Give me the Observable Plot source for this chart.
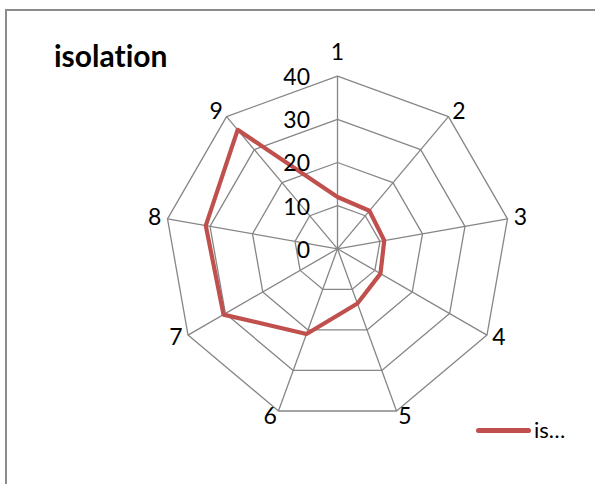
<!DOCTYPE html>
<html>
<head>
<meta charset="utf-8">
<script src="https://cdn.jsdelivr.net/npm/d3@7"></script>
<script src="https://cdn.jsdelivr.net/npm/@observablehq/plot@0.6"></script>
<style>
  html, body { margin: 0; padding: 0; background: #fff; }
  #wrap { position: relative; width: 595px; height: 484px; overflow: hidden; font-family: Lato, "Open Sans", sans-serif; font-variant-ligatures: none; font-feature-settings: "liga" 0, "dlig" 0; }
  #frame { position: absolute; left: 5px; top: 9px; width: 620px; height: 500px; border: 2px solid #8c8c8c; box-sizing: border-box; }
  #chart { position: absolute; left: 0; top: 0; }
  #title { position: absolute; left: 54px; top: 40px; font-size: 30px; line-height: 30px; font-weight: bold; color: #000; white-space: nowrap; font-variant-ligatures: none; font-feature-settings: "liga" 0, "dlig" 0; }
  #legend { position: absolute; left: 476px; top: 418px; height: 24px; display: flex; align-items: center; }
  #legend .sw { width: 55px; height: 5px; border-radius: 3px; margin-right: 3px; }
  #legend .lb { font-size: 22px; line-height: 22px; color: #000; }
</style>
</head>
<body>
<div id="wrap">
  <div id="frame"></div>
  <div id="chart"></div>
  <div id="title"></div>
  <div id="legend"><span class="sw"></span><span class="lb"></span></div>
</div>
<script>
// ---- data ----
const categories = ["1", "2", "3", "4", "5", "6", "7", "8", "9"];
const values = [12, 11.5, 11, 11.5, 13.5, 21, 30.5, 31, 36];
const tickValues = [0, 10, 20, 30, 40];
const seriesName = "isolation";
const legendLabel = "is…";
const seriesColor = "#C0504D";

// ---- geometry helpers (derived from data) ----
const maxV = 40;
const cx = 337, cy = 248.3, R = 172.6;       // pixel layout of the plot area
const pxPerUnit = R / maxV;
const angle = i => (i * 2 * Math.PI) / categories.length;

const pt = (v, i) => ({ x: v * Math.sin(angle(i)), y: v * Math.cos(angle(i)) });

const gridData = tickValues.filter(t => t > 0).flatMap(t =>
  categories.map((c, i) => ({ level: t, ...pt(t, i) })));
const spokes = categories.map((c, i) => ({ cat: c, ...pt(maxV, i) }));
const series = values.map((v, i) => ({ cat: categories[i], value: v, ...pt(v, i) }));

function labelPos(i) {
  const a = angle(i), s = Math.sin(a), c = Math.cos(a);
  const sgn = Math.abs(s) < 1e-6 ? 0 : Math.sign(s);
  const dxPx = sgn * (6 + 7 * Math.abs(s));
  let dyPx = -c * 6;
  if (Math.abs(s) < 1e-6 && c > 0) dyPx = -24;
  const p = pt(maxV, i);
  return { x: p.x + dxPx / pxPerUnit, y: p.y - dyPx / pxPerUnit };
}
const catLabels = categories.map((c, i) => ({ cat: c, ...labelPos(i) }));
const tickLabels = tickValues.map(t => ({ t, x: 0, y: t }));

const chart = Plot.plot({
  width: 595,
  height: 484,
  margin: 0,
  x: { domain: [-maxV, maxV], range: [cx - R, cx + R], axis: null },
  y: { domain: [-maxV, maxV], range: [cy + R, cy - R], axis: null },
  style: { fontFamily: "Lato, 'Open Sans', sans-serif", background: "transparent", color: "#000" },
  marks: [
    Plot.line(gridData, { x: "x", y: "y", z: "level", curve: "linear-closed", stroke: "#868686", strokeWidth: 1.3 }),
    Plot.link(spokes, { x1: 0, y1: 0, x2: "x", y2: "y", stroke: "#868686", strokeWidth: 1.3 }),
    Plot.line(series, { x: "x", y: "y", curve: "linear-closed", stroke: seriesColor, strokeWidth: 4.2, strokeLinejoin: "round" }),
    Plot.text(tickLabels, { x: "x", y: "y", text: d => String(d.t), textAnchor: "end", dx: -27.5, dy: 1.5, fontSize: 23, fill: "#000" }),
    Plot.text(catLabels, { x: "x", y: "y", text: "cat", fontSize: 23, fill: "#000" })
  ]
});
document.getElementById("chart").appendChild(chart);
document.getElementById("title").textContent = seriesName;
document.querySelector("#legend .sw").style.background = seriesColor;
document.querySelector("#legend .lb").textContent = legendLabel;
</script>
</body>
</html>
